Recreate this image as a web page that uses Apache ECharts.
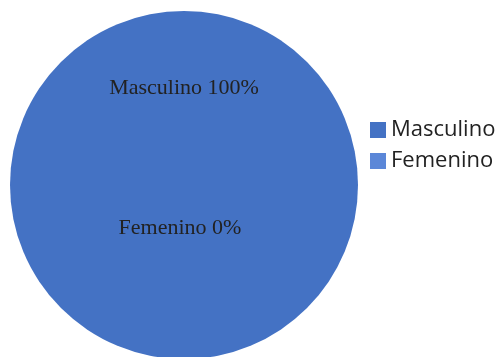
<!DOCTYPE html>
<html>
<head>
<meta charset="utf-8">
<script src="https://cdn.jsdelivr.net/npm/echarts@6/dist/echarts.min.js"></script>
<style>
  html, body { margin: 0; padding: 0; background: #fff; }
  #chart { width: 503px; height: 357px; }
</style>
</head>
<body>
<div id="chart"></div>
<script>
// Gender split of respondents
const categories = ['Masculino', 'Femenino'];
const shares = [100, 0];
const sliceColors = ['#4472c4', '#5b87d8'];

// Label anchor points inside the disc, one per category
const labelSpots = [[184, 88], [180, 228]];

const chart = echarts.init(document.getElementById('chart'), null, { renderer: 'canvas' });

chart.setOption({
  animation: false,
  legend: {
    orient: 'vertical',
    left: 365,
    top: 114,
    icon: 'rect',
    itemWidth: 16,
    itemHeight: 16,
    itemGap: 9,
    data: categories,
    textStyle: { fontFamily: 'Open Sans', fontSize: 22, color: '#222' }
  },
  series: [{
    type: 'pie',
    center: [184, 185],
    radius: [0, 174],
    startAngle: 90,
    clockwise: true,
    stillShowZeroSum: true,
    silent: true,
    itemStyle: { borderWidth: 0 },
    label: {
      show: true,
      position: 'inside',
      formatter: '{b} {c}%',
      fontFamily: 'Liberation Serif',
      fontSize: 22,
      color: '#222'
    },
    labelLine: { show: false },
    labelLayout: function (params) {
      const p = labelSpots[params.dataIndex];
      return { x: p[0], y: p[1], align: 'center', verticalAlign: 'middle' };
    },
    data: categories.map((name, i) => ({
      name: name,
      value: shares[i],
      itemStyle: { color: sliceColors[i] }
    }))
  }]
});
</script>
</body>
</html>
